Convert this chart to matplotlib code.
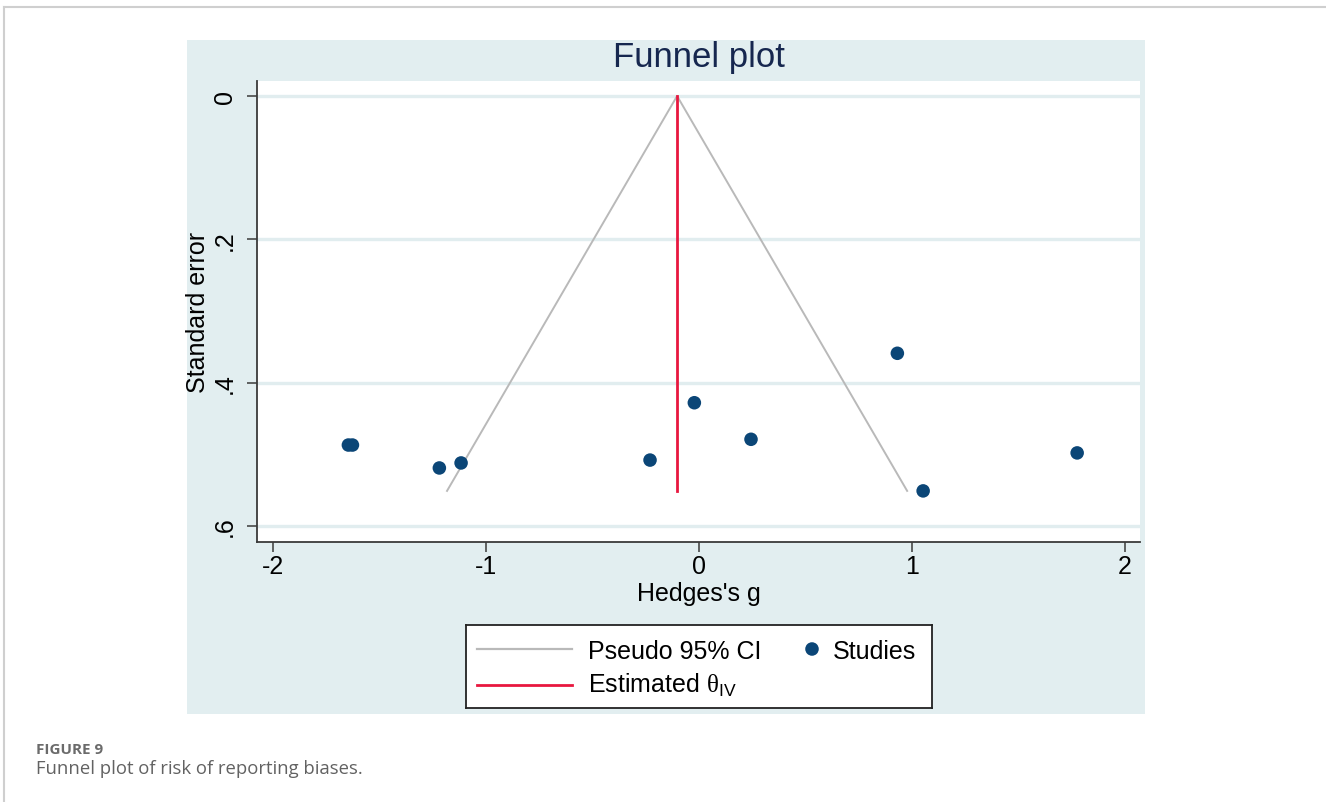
import matplotlib
matplotlib.use("Agg")
import matplotlib.pyplot as plt
from matplotlib.lines import Line2D
from matplotlib.patches import Rectangle
import numpy as np

# Study effect sizes (Hedges's g) and their standard errors
studies_g = [-1.646, -1.627, -1.219, -1.117, -0.230, -0.022, 0.244, 0.931, 1.052, 1.775]
studies_se = [0.487, 0.487, 0.519, 0.512, 0.508, 0.428, 0.479, 0.359, 0.551, 0.498]

# Inverse-variance pooled estimate
theta_iv = -0.103
z95 = 1.96

x_ticks = [-2, -1, 0, 1, 2]
x_tick_labels = ["-2", "-1", "0", "1", "2"]
y_ticks = [0, 0.2, 0.4, 0.6]
y_tick_labels = ["0", ".2", ".4", ".6"]

W, H = 1326, 803
plt.rcParams["font.family"] = ["Liberation Sans", "DejaVu Sans"]
plt.rcParams["mathtext.fontset"] = "custom"
plt.rcParams["mathtext.rm"] = "Liberation Serif"
plt.rcParams["mathtext.sf"] = "Liberation Sans"

fig = plt.figure(figsize=(W / 100, H / 100), dpi=100)
fig.patch.set_facecolor("white")


def fx(px):
    return px / W


def fy(py):
    return 1 - py / H


panel_col = "#e2eef0"
grid_col = "#e1edef"
navy = "#0b4677"
red = "#e8173f"
gray = "#b9b9b9"

# page frame lines
fig.add_artist(Line2D([fx(4), 1], [fy(8), fy(8)], color="#cfcfcf", lw=1.5))
fig.add_artist(Line2D([fx(4), fx(4)], [fy(8), 0], color="#cfcfcf", lw=1.5))

# graph region background
fig.add_artist(Rectangle((fx(186.5), fy(714.5)), fx(1145 - 186.5), (714.5 - 40.5) / H,
                         facecolor=panel_col, edgecolor="none", zorder=0))

ax = fig.add_axes([fx(257), fy(543), fx(1140 - 257), (543 - 82) / H])
ax.set_facecolor("white")
ax.set_xlim(-2.075, 2.07)
ax.set_ylim(0.6223, -0.0209)

for yt in y_ticks:
    ax.axhline(yt, color=grid_col, lw=2.4, zorder=0)

se_max = max(studies_se)
ax.plot([theta_iv - z95 * se_max, theta_iv, theta_iv + z95 * se_max],
        [se_max, 0, se_max], color=gray, lw=1.4, zorder=2)
ax.plot([theta_iv, theta_iv], [0, se_max], color=red, lw=2.0, zorder=3)
ax.scatter(studies_g, studies_se, s=95, color=navy, edgecolors="none", zorder=4)

for side in ["top", "right"]:
    ax.spines[side].set_visible(False)
for side in ["left", "bottom"]:
    ax.spines[side].set_color("#3a3a3a")
    ax.spines[side].set_linewidth(1.3)

ax.set_xticks(x_ticks)
ax.set_xticklabels(x_tick_labels)
ax.set_yticks(y_ticks)
ax.set_yticklabels(y_tick_labels, rotation=90, va="center")
ax.tick_params(axis="both", direction="out", length=7.5, width=1.1,
               color="#3a3a3a", labelsize=18)
ax.tick_params(axis="x", pad=1)
ax.tick_params(axis="y", pad=7)
ax.set_xlabel("Hedges's g", fontsize=18, labelpad=2)
ax.set_ylabel("Standard error", fontsize=18, labelpad=2)

fig.text(fx(699), fy(67), "Funnel plot", ha="center", va="baseline",
         fontsize=25, color="#16274f")

# legend box
lg = fig.add_axes([fx(466), fy(709), fx(932 - 466), (709 - 626) / H])
lg.set_xlim(466, 932)
lg.set_ylim(709, 626)
lg.set_xticks([])
lg.set_yticks([])
lg.set_facecolor("white")
for sp in lg.spines.values():
    sp.set_color("#222222")
    sp.set_linewidth(1.3)
lg.plot([477, 572], [650, 650], color=gray, lw=1.6)
lg.plot([477, 572], [686, 686], color=red, lw=2.0)
lg.scatter([812], [650], s=95, color=navy, edgecolors="none")
lg.text(588, 659, "Pseudo 95% CI", fontsize=18, va="baseline", ha="left")
lg.text(833, 659, "Studies", fontsize=18, va="baseline", ha="left")
lg.text(588, 693, r"Estimated $\mathrm{\theta}_{\mathsf{IV}}$", fontsize=18,
        va="baseline", ha="left")

# caption
fig.text(fx(36), fy(754), "FIGURE 9", fontsize=11, fontweight="bold",
         color="#6b6b6b", family="Open Sans", va="baseline")
fig.text(fx(36), fy(774), "Funnel plot of risk of reporting biases.", fontsize=13.3,
         color="#626262", family="Open Sans", va="baseline")

fig.savefig("out.png", dpi=100)
